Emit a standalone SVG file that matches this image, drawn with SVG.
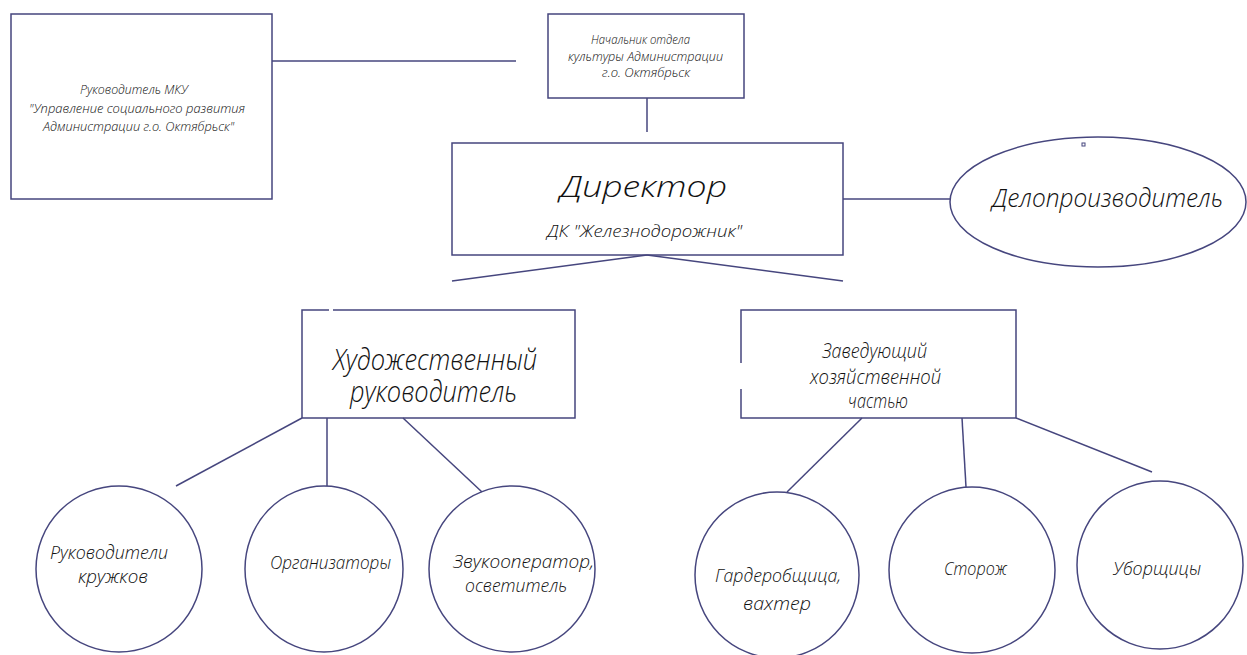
<svg xmlns="http://www.w3.org/2000/svg" width="1247" height="655" viewBox="0 0 1247 655">
<style>
.shape{fill:none;stroke:#46467e;stroke-width:1.5}
.conn line{stroke:#46467e;stroke-width:1.5}
text{font-family:"Open Sans","Liberation Sans","DejaVu Sans",sans-serif;font-weight:300;font-style:italic;fill:#111111}
.s13{font-size:13px}
.s16{font-size:16px}
.s18{font-size:18px}
.s20{font-size:20px}
.s26{font-size:26px}
.s30{font-size:30px}
</style>
<rect width="1247" height="655" fill="#ffffff"/>
<g id="connectors" class="conn">
<line x1="272" y1="61" x2="516" y2="61"/>
<line x1="647" y1="98" x2="647" y2="132"/>
<line x1="843" y1="199" x2="950" y2="199"/>
<line x1="647" y1="255" x2="452" y2="281"/>
<line x1="647" y1="255" x2="843" y2="281"/>
<line x1="302" y1="418" x2="176" y2="486"/>
<line x1="327" y1="418" x2="327" y2="486"/>
<line x1="403" y1="418" x2="482" y2="492"/>
<line x1="862" y1="418" x2="787" y2="492"/>
<line x1="962" y1="418" x2="966" y2="487"/>
<line x1="1016" y1="418" x2="1152" y2="472"/>
</g>
<g id="node-mku">
<rect class="shape" x="11" y="14" width="261" height="185"/>
<text class="s13" x="80" y="94" textLength="108" lengthAdjust="spacingAndGlyphs">Руководитель МКУ</text>
<text class="s13" x="29" y="113" textLength="216" lengthAdjust="spacingAndGlyphs">"Управление социального развития</text>
<text class="s13" x="43" y="131" textLength="191" lengthAdjust="spacingAndGlyphs">Администрации г.о. Октябрьск"</text>
</g>
<g id="node-culture">
<rect class="shape" x="548" y="14" width="196" height="84"/>
<text class="s13" x="591" y="44" textLength="99" lengthAdjust="spacingAndGlyphs">Начальник отдела</text>
<text class="s13" x="568" y="61" textLength="155" lengthAdjust="spacingAndGlyphs">культуры Администрации</text>
<text class="s13" x="602" y="77" textLength="88" lengthAdjust="spacingAndGlyphs">г.о. Октябрьск</text>
</g>
<g id="node-director">
<rect class="shape" x="452" y="143" width="391" height="112"/>
<text class="s30" x="560" y="197" textLength="167" lengthAdjust="spacingAndGlyphs">Директор</text>
<text class="s16" x="547" y="237" textLength="195" lengthAdjust="spacingAndGlyphs">ДК "Железнодорожник"</text>
</g>
<g id="node-clerk">
<ellipse class="shape" cx="1098" cy="202" rx="148" ry="65"/>
<rect class="shape" x="1082" y="143" width="3" height="3" style="stroke-width:1"/>
<text class="s26" x="992" y="207" textLength="231" lengthAdjust="spacingAndGlyphs">Делопроизводитель</text>
</g>
<g id="node-art">
<path class="shape" d="M329 310 H302 V418 H575 V310 H333"/>
<text class="s30" x="333" y="370" textLength="204" lengthAdjust="spacingAndGlyphs">Художественный</text>
<text class="s30" x="350" y="402" textLength="167" lengthAdjust="spacingAndGlyphs">руководитель</text>
</g>
<g id="node-household">
<path class="shape" d="M741 363 V310 H1016 V418 H741 V389"/>
<text class="s20" x="822" y="358" textLength="105" lengthAdjust="spacingAndGlyphs">Заведующий</text>
<text class="s20" x="810" y="384" textLength="131" lengthAdjust="spacingAndGlyphs">хозяйственной</text>
<text class="s20" x="848" y="408" textLength="60" lengthAdjust="spacingAndGlyphs">частью</text>
</g>
<g id="node-clubs">
<ellipse class="shape" cx="119" cy="569" rx="83" ry="83"/>
<text class="s18" x="50" y="559" textLength="118" lengthAdjust="spacingAndGlyphs">Руководители</text>
<text class="s18" x="78" y="583" textLength="70" lengthAdjust="spacingAndGlyphs">кружков</text>
</g>
<g id="node-organizers">
<ellipse class="shape" cx="324" cy="569" rx="79" ry="83"/>
<text class="s18" x="270" y="569" textLength="121" lengthAdjust="spacingAndGlyphs">Организаторы</text>
</g>
<g id="node-sound">
<ellipse class="shape" cx="512" cy="569" rx="83" ry="83"/>
<text class="s18" x="453" y="568" textLength="141" lengthAdjust="spacingAndGlyphs">Звукооператор,</text>
<text class="s18" x="465" y="592" textLength="102" lengthAdjust="spacingAndGlyphs">осветитель</text>
</g>
<g id="node-cloakroom">
<ellipse class="shape" cx="777" cy="575" rx="82" ry="83"/>
<text class="s18" x="715" y="582" textLength="126" lengthAdjust="spacingAndGlyphs">Гардеробщица,</text>
<text class="s18" x="743" y="610" textLength="68" lengthAdjust="spacingAndGlyphs">вахтер</text>
</g>
<g id="node-watchman">
<ellipse class="shape" cx="972" cy="570" rx="83" ry="83"/>
<text class="s18" x="944" y="575" textLength="63" lengthAdjust="spacingAndGlyphs">Сторож</text>
</g>
<g id="node-cleaners">
<ellipse class="shape" cx="1160" cy="565" rx="83" ry="84"/>
<text class="s18" x="1113" y="575" textLength="88" lengthAdjust="spacingAndGlyphs">Уборщицы</text>
</g>
</svg>
